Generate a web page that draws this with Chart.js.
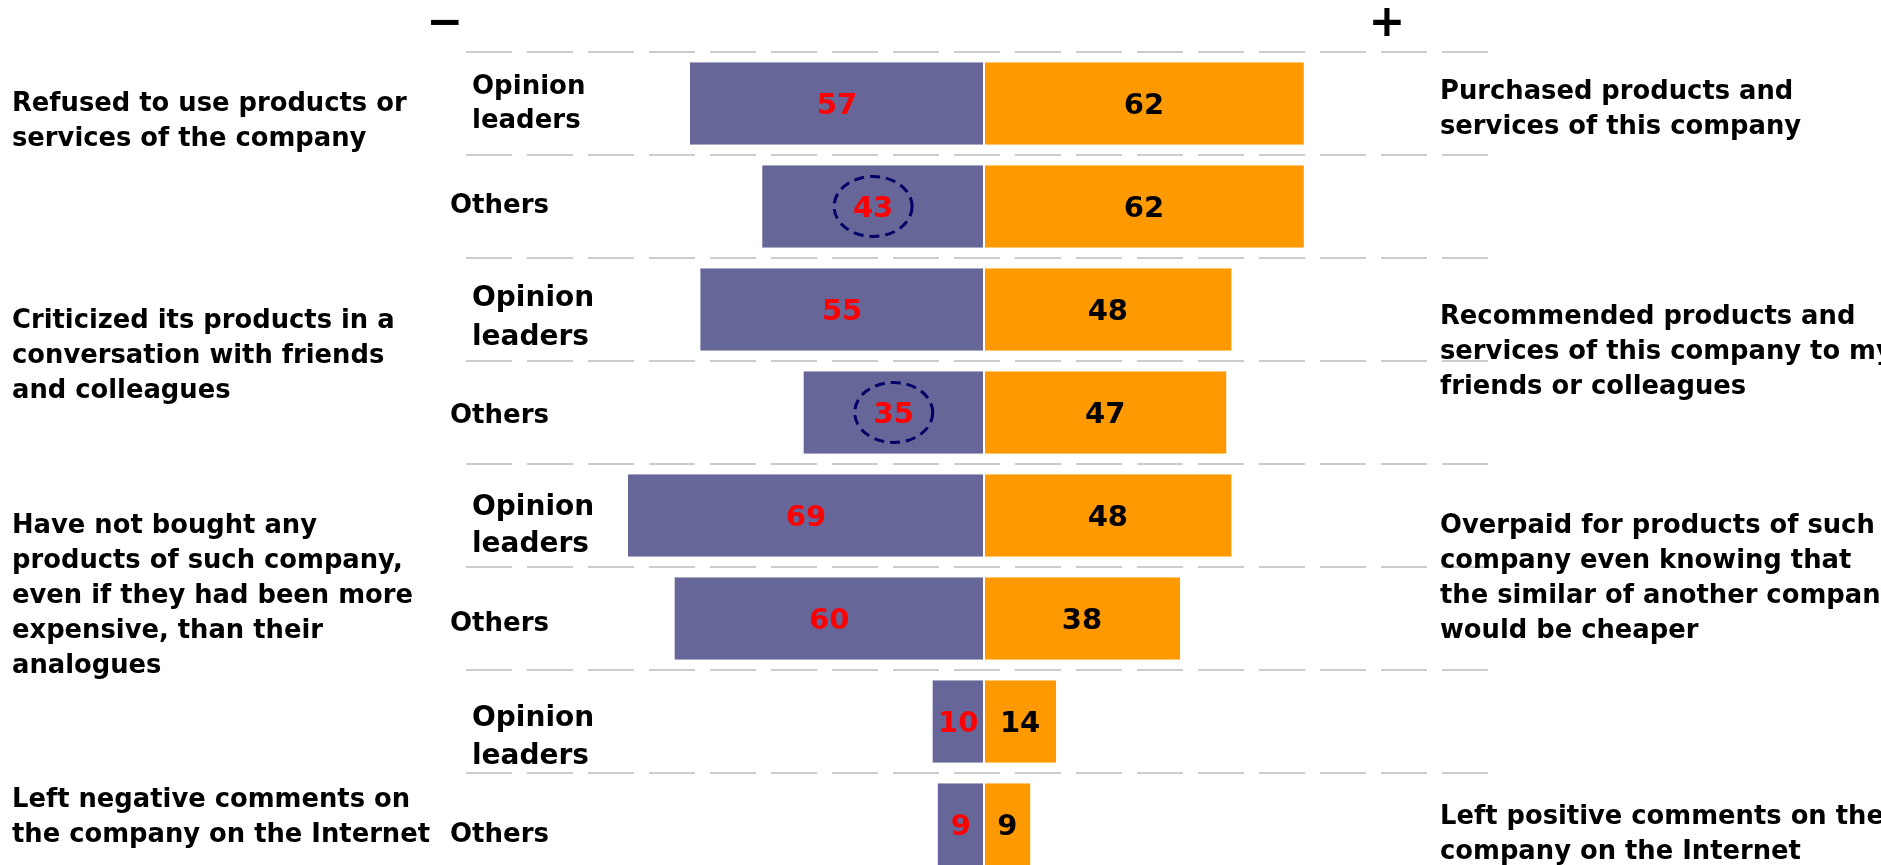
<!DOCTYPE html>
<html>
<head>
<meta charset="utf-8">
<script src="https://cdn.jsdelivr.net/npm/chart.js@4.4.1/dist/chart.umd.min.js"></script>
<style>
    html, body { margin: 0; padding: 0; background: #ffffff; overflow: hidden; }
    #wrap { position: relative; width: 1881px; height: 880px; }
</style>
</head>
<body>
<div id="wrap"><canvas id="chart"></canvas></div>
<script>
const rowLabels = [
    ['Opinion', 'leaders'], ['Others'],
    ['Opinion', 'leaders'], ['Others'],
    ['Opinion', 'leaders'], ['Others'],
    ['Opinion', 'leaders'], ['Others']
];
const negativeValues = [57, 43, 55, 35, 69, 60, 10, 9];
const positiveValues = [62, 62, 48, 47, 48, 38, 14, 9];
const circledRows = [1, 3];

const negativeNotes = [
    ['Refused to use products or', 'services of the company'],
    ['Criticized its products in a', 'conversation with friends', 'and colleagues'],
    ['Have not bought any', 'products of such company,', 'even if they had been more', 'expensive, than their', 'analogues'],
    ['Left negative comments on', 'the company on the Internet']
];
const positiveNotes = [
    ['Purchased products and', 'services of this company'],
    ['Recommended products and', 'services of this company to my', 'friends or colleagues'],
    ['Overpaid for products of such', 'company even knowing that', 'the similar of another company', 'would be cheaper'],
    ['Left positive comments on the', 'company on the Internet']
];

// layout: where the notes and row captions sit (in category units / px)
const negativeNoteAt = [0.155, 2.432, 4.762, 6.913];
const positiveNoteAt = [0.039, 2.393, 4.592, 7.073];
const rowLabelStyle = [
    { x: 472, dy: -1.5, size: 26, lh: 34 },
    { x: 450, dy: -2.5, size: 26, lh: 34 },
    { x: 472, dy: 6, size: 28, lh: 39 },
    { x: 450, dy: 1.5, size: 26, lh: 34 },
    { x: 472, dy: 8, size: 28, lh: 37 },
    { x: 450, dy: 3.5, size: 26, lh: 34 },
    { x: 472, dy: 13.5, size: 28, lh: 38 },
    { x: 450, dy: 8.5, size: 26, lh: 34 }
];

const FONT = "'DejaVu Sans', Verdana, sans-serif";
const TEXT_SHIFT = 2.5;

const annotations = {
    id: 'annotations',
    afterDatasetsDraw(chart) {
        const ctx = chart.ctx;
        const xs = chart.scales.x;
        const ys = chart.scales.y;
        ctx.save();
        ctx.textBaseline = 'middle';

        // sign markers above the chart
        ctx.fillStyle = '#000000';
        ctx.textAlign = 'center';
        ctx.font = `bold 44px ${FONT}`;
        ctx.fillText('\u2212', 445, 25);
        ctx.fillText('+', 1387, 25);

        // row captions
        ctx.textAlign = 'left';
        rowLabels.forEach((lines, i) => {
            const st = rowLabelStyle[i];
            const cy = ys.getPixelForValue(i) + st.dy + TEXT_SHIFT;
            ctx.font = `bold ${st.size}px ${FONT}`;
            const top = cy - (lines.length - 1) * st.lh / 2;
            lines.forEach((t, k) => ctx.fillText(t, st.x, top + k * st.lh));
        });

        // action notes on both sides
        ctx.font = `bold 25.8px ${FONT}`;
        const lh = 35;
        negativeNotes.forEach((lines, g) => {
            const cy = ys.getPixelForValue(negativeNoteAt[g]) + TEXT_SHIFT;
            const top = cy - (lines.length - 1) * lh / 2;
            lines.forEach((t, k) => ctx.fillText(t, 12, top + k * lh));
        });
        positiveNotes.forEach((lines, g) => {
            const cy = ys.getPixelForValue(positiveNoteAt[g]) + TEXT_SHIFT;
            const top = cy - (lines.length - 1) * lh / 2;
            lines.forEach((t, k) => ctx.fillText(t, 1440, top + k * lh));
        });

        // values inside the bars
        ctx.textAlign = 'center';
        ctx.font = `bold 29px ${FONT}`;
        negativeValues.forEach((v, i) => {
            const cy = chart.getDatasetMeta(0).data[i].y + TEXT_SHIFT;
            ctx.fillStyle = '#ff0000';
            ctx.fillText(String(v), xs.getPixelForValue(-v / 2), cy);
            ctx.fillStyle = '#000000';
            ctx.fillText(String(positiveValues[i]), xs.getPixelForValue(positiveValues[i] / 2), cy);
        });

        // dashed rings around highlighted values
        ctx.strokeStyle = '#000066';
        ctx.lineWidth = 3;
        ctx.setLineDash([10, 6]);
        circledRows.forEach(i => {
            const cx = xs.getPixelForValue(-negativeValues[i] / 2);
            const cy = chart.getDatasetMeta(0).data[i].y;
            ctx.beginPath();
            ctx.ellipse(cx, cy, 39, 30, 0, 0, Math.PI * 2);
            ctx.stroke();
        });
        ctx.restore();
    }
};

new Chart(document.getElementById('chart'), {
    type: 'bar',
    data: {
        labels: rowLabels,
        datasets: [
            {
                label: 'negative',
                data: negativeValues.map(v => -v),
                backgroundColor: '#666699',
                borderColor: '#ffffff',
                borderWidth: { top: 0, bottom: 0, left: 0, right: 1 },
                borderSkipped: false
            },
            {
                label: 'positive',
                data: positiveValues,
                backgroundColor: '#ff9900',
                borderColor: '#ffffff',
                borderWidth: { top: 0, bottom: 0, left: 1, right: 0 },
                borderSkipped: false
            }
        ]
    },
    options: {
        indexAxis: 'y',
        responsive: true,
        maintainAspectRatio: false,
        animation: false,
        categoryPercentage: 1,
        barPercentage: 0.8,
        layout: { padding: { left: 466, right: 379, top: 52, bottom: 4 } },
        plugins: {
            legend: { display: false },
            tooltip: { enabled: false }
        },
        scales: {
            x: {
                type: 'linear',
                min: -100.4,
                max: 100.4,
                stacked: true,
                display: false
            },
            y: {
                stacked: true,
                ticks: { display: false },
                grid: { color: '#cccccc', lineWidth: 2, drawTicks: false, offset: true },
                border: { display: false, dash: [46, 15] }
            }
        }
    },
    plugins: [annotations]
});
</script>
</body>
</html>
